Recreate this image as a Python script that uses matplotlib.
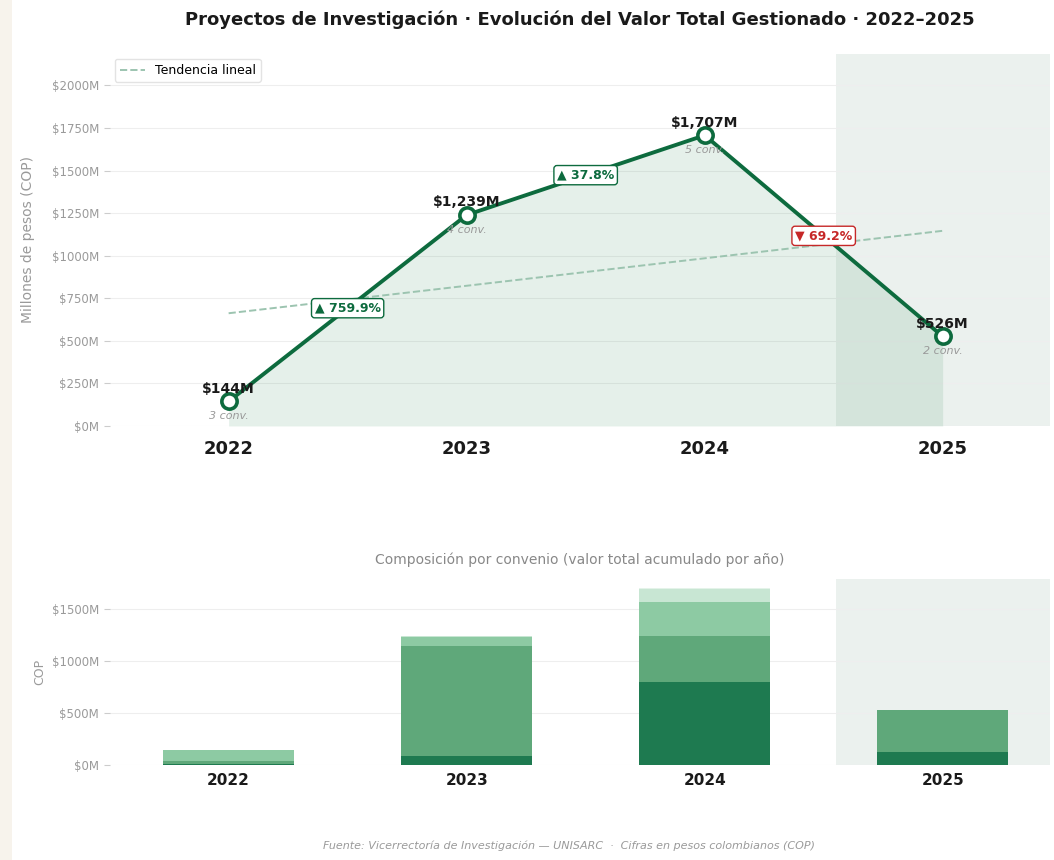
import numpy as np
import matplotlib
matplotlib.use("Agg")
import matplotlib.pyplot as plt
from matplotlib.patches import Rectangle

# Datos (millones de COP)
years = ["2022", "2023", "2024", "2025"]
totals = [144.08, 1239.0, 1707.0, 526.0]
n_conv = [3, 4, 5, 2]

# composición por convenio (segmentos apilados, en orden)
seg_2022 = [14.0, 26.0, 104.08]
seg_2023 = [88.0, 1057.0, 90.0, 4.0]
seg_2024 = [800.0, 445.0, 330.0, 125.0, 7.0]
seg_2025 = [125.0, 401.0]
segments = [seg_2022, seg_2023, seg_2024, seg_2025]

GREEN = "#0d6b3e"
RED = "#c62828"
GRAY = "#9a9a9a"
seg_colors = ["#1e7a50", "#5fa87a", "#8dcaa3", "#c8e6d3", "#e4f3e9"]

fig = plt.figure(figsize=(10.54, 8.6), dpi=100)
fig.patch.set_facecolor("white")
fig.patches.append(Rectangle((0, 0), 0.011, 1, transform=fig.transFigure,
                             facecolor="#f7f3ec", edgecolor="none", zorder=0))

x = np.arange(len(years))

# ---------- gráfico principal ----------
ax = fig.add_axes([0.104, 0.5047, 0.892, 0.4326])
ax.axvspan(2.55, 3.45, color="#e3ece7", alpha=0.7, zorder=0, lw=0)
ax.fill_between(x, totals, 0, color="#2e8b57", alpha=0.12, zorder=1, lw=0)
ax.plot(x, totals, color=GREEN, lw=2.8, zorder=3)
ax.plot(x, totals, "o", ms=11, mfc="white", mec=GREEN, mew=2.6, zorder=4)

# tendencia lineal
coef = np.polyfit(x, totals, 1)
ax.plot(x, np.polyval(coef, x), "--", color="#9cc4b0", lw=1.4, zorder=2,
        label="Tendencia lineal")

for xi, v, n in zip(x, totals, n_conv):
    ax.annotate(f"${v:,.0f}M", (xi, v), xytext=(0, 4), textcoords="offset points",
                ha="center", va="bottom", fontsize=10, fontweight="bold",
                color="#1a1a1a", zorder=5)
    ax.annotate(f"{n} conv.", (xi, v), xytext=(0, -7), textcoords="offset points",
                ha="center", va="top", fontsize=8, style="italic", color=GRAY, zorder=5)

for i in range(len(totals) - 1):
    ch = (totals[i + 1] - totals[i]) / totals[i] * 100
    col = GREEN if ch >= 0 else RED
    sym = "▲" if ch >= 0 else "▼"
    ax.text(i + 0.5, (totals[i] + totals[i + 1]) / 2, f"{sym} {abs(ch):.1f}%",
            ha="center", va="center", fontsize=9, fontweight="bold", color=col, zorder=6,
            bbox=dict(boxstyle="round,pad=0.25", fc="white", ec=col, lw=1))

ax.set_xlim(-0.5, 3.45)
ax.set_ylim(0, max(totals) * 1.28)
ax.set_yticks(np.arange(0, 2001, 250))
ax.set_yticklabels([f"${int(t)}M" for t in np.arange(0, 2001, 250)])
ax.set_xticks(x)
ax.set_xticklabels(years, fontsize=13, fontweight="bold", color="#1a1a1a")
ax.tick_params(axis="x", length=0, pad=10)
ax.tick_params(axis="y", labelsize=8.5, labelcolor=GRAY, color="#cccccc", length=4)
ax.set_ylabel("Millones de pesos (COP)", fontsize=10, color=GRAY, labelpad=12)
ax.grid(axis="y", color="#eeeeee", lw=0.8, zorder=0)
ax.set_axisbelow(True)
for s in ax.spines.values():
    s.set_visible(False)
leg = ax.legend(loc="upper left", fontsize=9, frameon=True, borderaxespad=0.4)
leg.get_frame().set_edgecolor("#dddddd")
ax.set_title("Proyectos de Investigación · Evolución del Valor Total Gestionado · 2022–2025",
             fontsize=13, fontweight="bold", color="#1a1a1a", pad=21)

# ---------- composición por convenio ----------
bx = fig.add_axes([0.104, 0.1105, 0.892, 0.2162])
bx.axvspan(2.55, 3.45, color="#e3ece7", alpha=0.7, zorder=0, lw=0)
for xi, segs in zip(x, segments):
    bottom = 0
    for j, s in enumerate(segs):
        bx.bar(xi, s, width=0.55, bottom=bottom, color=seg_colors[j], zorder=3, lw=0)
        bottom += s

bx.set_xlim(-0.5, 3.45)
bx.set_ylim(0, max(totals) * 1.05)
bx.set_yticks([0, 500, 1000, 1500])
bx.set_yticklabels(["$0M", "$500M", "$1000M", "$1500M"])
bx.set_xticks(x)
bx.set_xticklabels(years, fontsize=11, fontweight="bold", color="#1a1a1a")
bx.tick_params(axis="x", length=0, pad=6)
bx.tick_params(axis="y", labelsize=8.5, labelcolor=GRAY, color="#cccccc", length=4)
bx.set_ylabel("COP", fontsize=9, color=GRAY)
bx.grid(axis="y", color="#eeeeee", lw=0.8, zorder=0)
bx.set_axisbelow(True)
for s in bx.spines.values():
    s.set_visible(False)
bx.set_title("Composición por convenio (valor total acumulado por año)",
             fontsize=10, color="#888888", pad=11)

fig.text(0.54, 0.01, "Fuente: Vicerrectoría de Investigación — UNISARC  ·  Cifras en pesos colombianos (COP)",
         ha="center", va="bottom", fontsize=8, style="italic", color=GRAY)

fig.savefig("out.png", dpi=100, facecolor=fig.get_facecolor())
